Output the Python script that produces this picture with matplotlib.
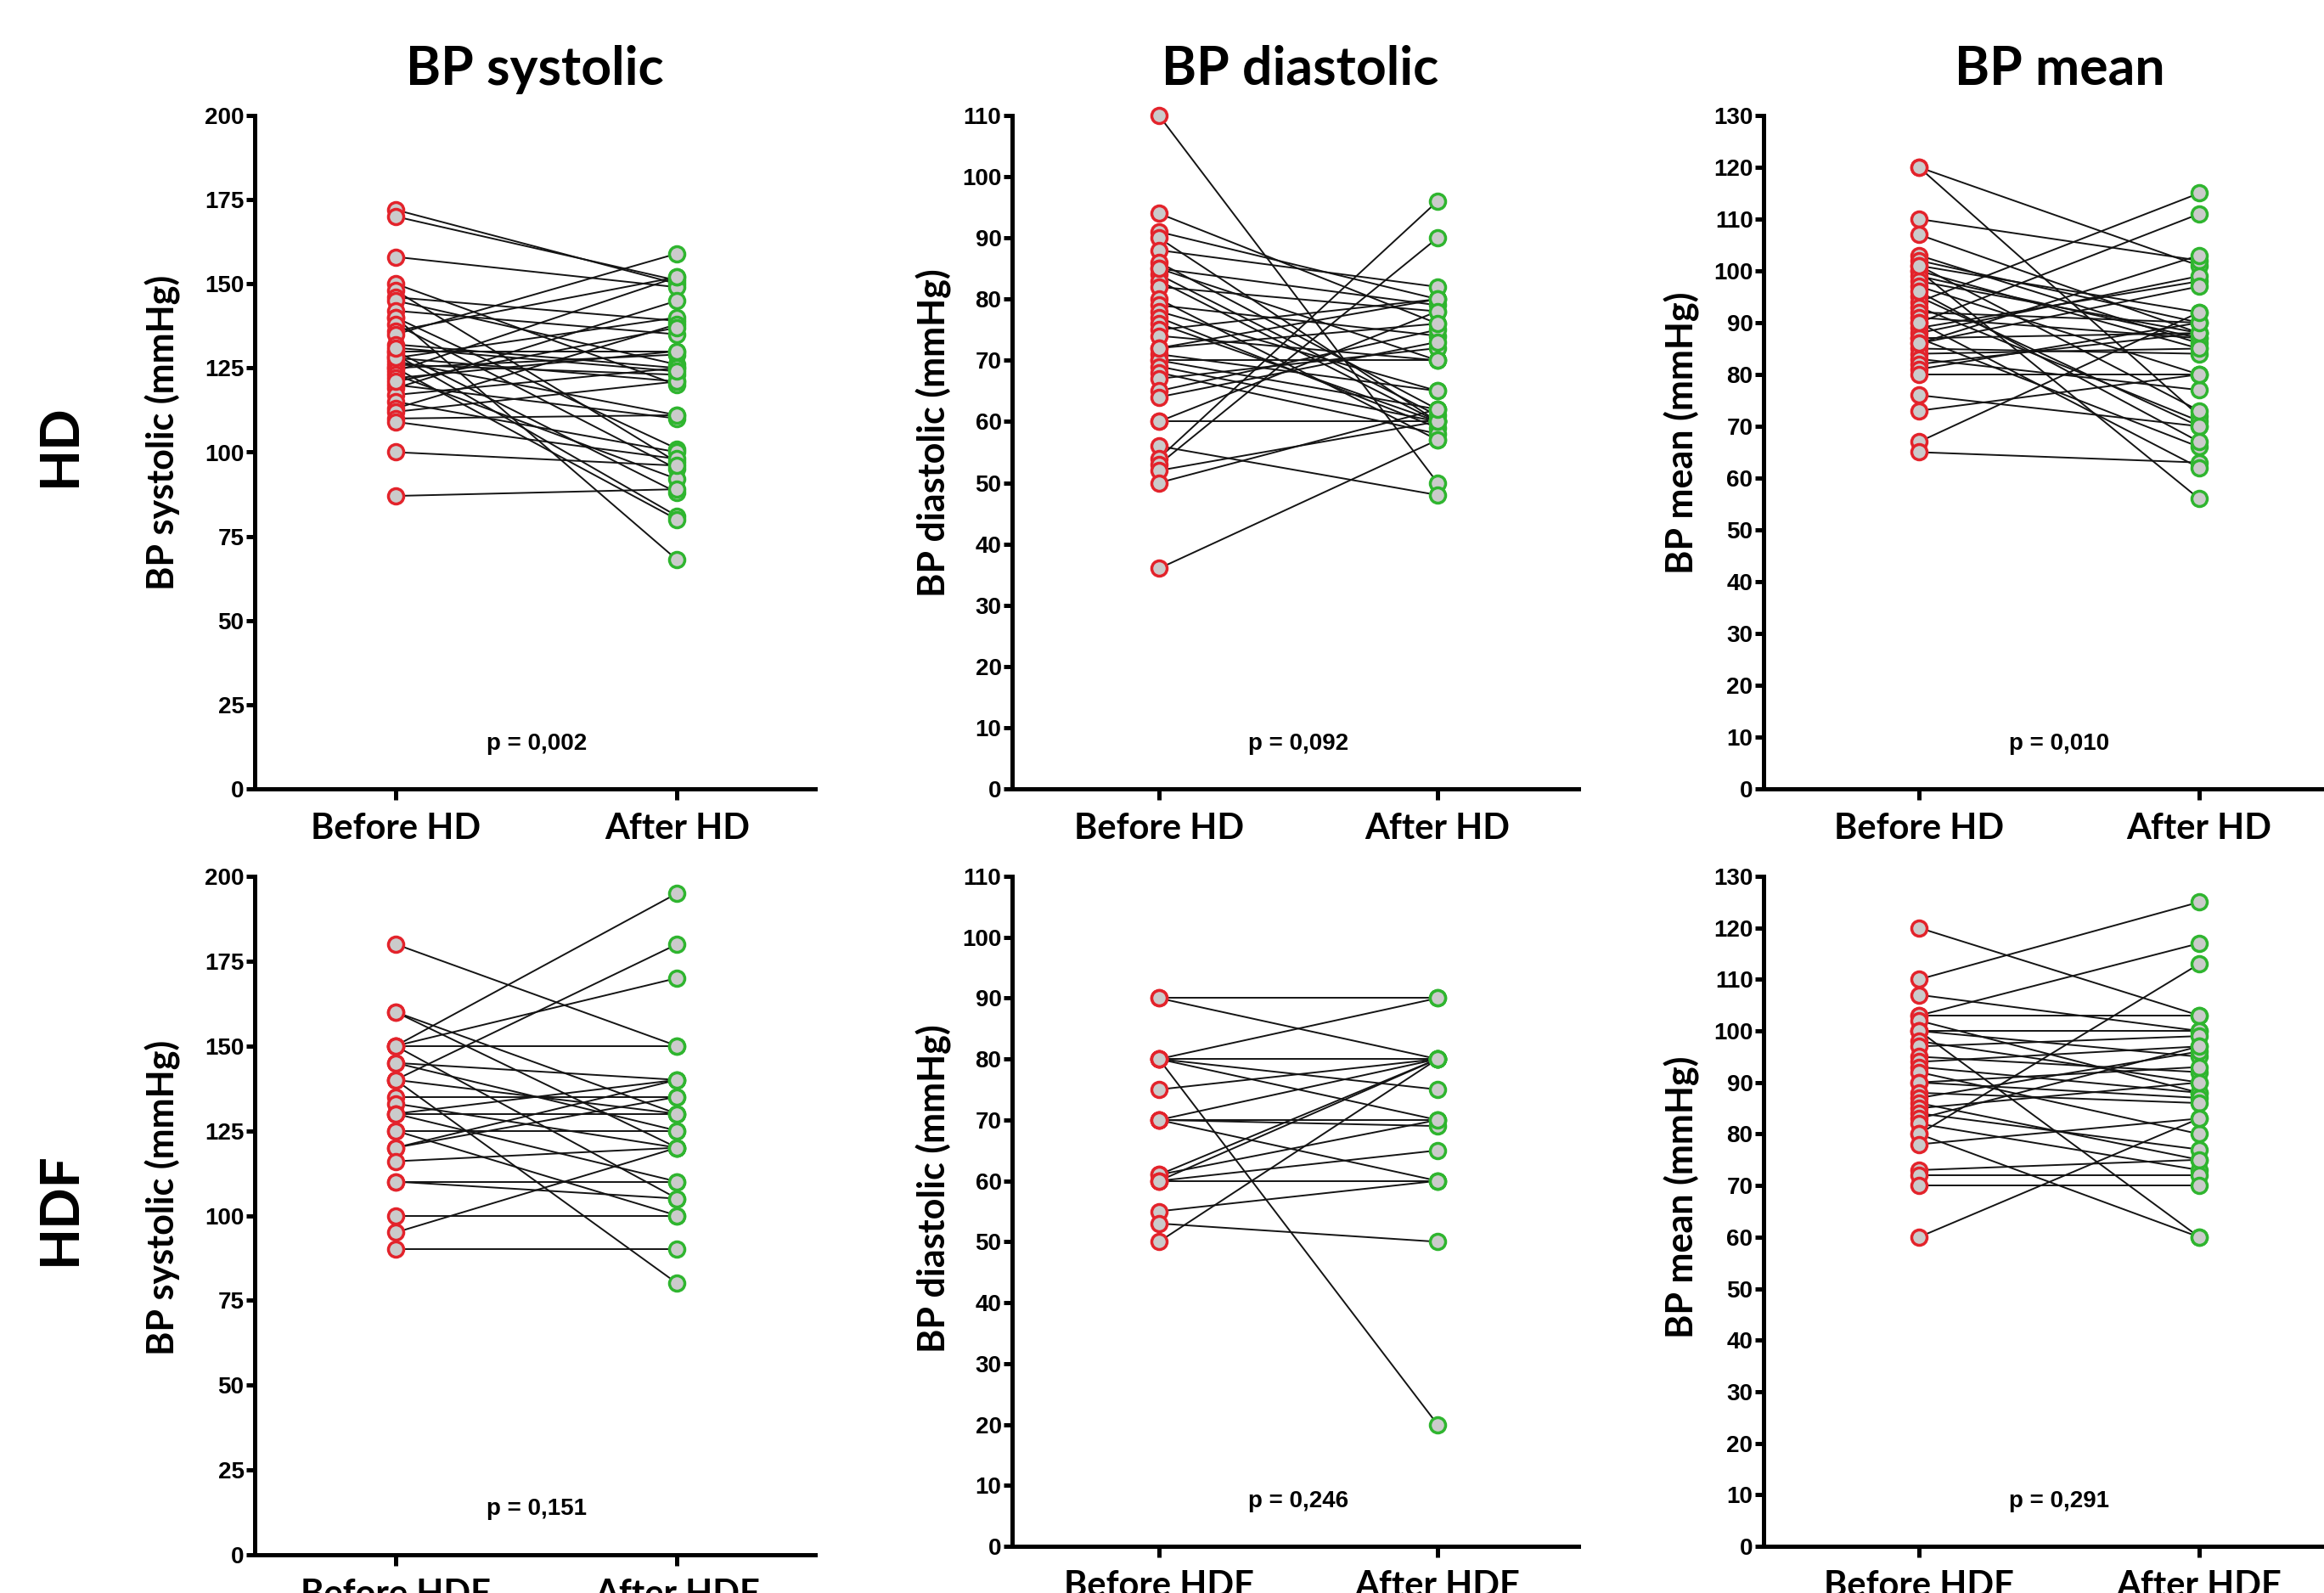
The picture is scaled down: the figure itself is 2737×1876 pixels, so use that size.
import matplotlib
matplotlib.use("Agg")
import matplotlib.pyplot as plt
from matplotlib import font_manager

# ---------------- data ----------------
col_titles = ["BP systolic", "BP diastolic", "BP mean"]
row_labels = ["HD", "HDF"]
y_labels = ["BP systolic (mmHg)", "BP diastolic (mmHg)", "BP mean (mmHg)"]
x_labels_hd = ["Before HD", "After HD"]
x_labels_hdf = ["Before HDF", "After HDF"]
y_max = [200, 110, 130]
y_step = [25, 10, 10]

# HD, systolic
hd_sys_before = [172, 170, 158, 150, 148, 146, 145, 142, 140, 140, 138, 136, 135, 132, 130, 130, 129, 128, 127,
                 126, 125, 125, 124, 123, 122, 120, 119, 117, 115, 113, 112, 110, 109, 100, 87, 128, 131, 121]
hd_sys_after = [150, 151, 149, 120, 97, 139, 126, 135, 68, 101, 95, 152, 159, 125, 130, 88, 81, 140, 111,
                123, 80, 129, 152, 92, 130, 110, 145, 125, 100, 138, 121, 111, 98, 96, 89, 121, 124, 137]
# HD, diastolic
hd_dia_before = [110, 94, 91, 90, 88, 86, 85, 84, 83, 82, 80, 79, 78, 77, 76, 75, 74, 72, 71, 70, 70, 69, 68, 67,
                 65, 64, 60, 60, 56, 54, 53, 52, 50, 36, 85, 72]
hd_dia_after = [50, 76, 80, 60, 82, 62, 79, 61, 60, 78, 57, 74, 65, 59, 60, 80, 70, 80, 65, 70, 62, 60, 58, 72,
                75, 73, 78, 60, 48, 96, 90, 60, 62, 57, 70, 76]
# HD, mean
hd_mean_before = [120, 120, 110, 107, 103, 102, 101, 100, 100, 99, 98, 97, 95, 94, 93, 92, 91, 90, 89, 88, 87, 87,
                  86, 85, 84, 83, 82, 81, 80, 76, 73, 67, 65, 96, 90, 86, 101]
hd_mean_after = [101, 72, 102, 88, 86, 90, 92, 56, 85, 87, 88, 80, 70, 115, 71, 90, 87, 111, 98, 99, 66, 88,
                 97, 84, 85, 77, 88, 90, 80, 70, 80, 92, 63, 67, 62, 103, 73]
# HDF, systolic
hdf_sys_before = [180, 160, 160, 150, 150, 150, 150, 145, 145, 140, 140, 140, 135, 133, 130, 130, 130, 125, 125,
                  120, 120, 116, 110, 110, 100, 95, 90]
hdf_sys_after = [150, 130, 120, 195, 170, 150, 105, 140, 125, 180, 80, 130, 135, 120, 140, 130, 110, 125, 100,
                 135, 140, 120, 110, 105, 100, 120, 90]
# HDF, diastolic
hdf_dia_before = [90, 90, 80, 80, 80, 80, 80, 75, 70, 70, 70, 70, 61, 61, 60, 60, 60, 55, 53, 50]
hdf_dia_after = [90, 80, 90, 80, 75, 70, 20, 80, 80, 70, 69, 60, 80, 70, 65, 80, 60, 60, 50, 80]
# HDF, mean
hdf_mean_before = [120, 110, 107, 103, 103, 102, 100, 100, 100, 98, 97, 95, 94, 93, 92, 90, 90, 88, 87, 86, 85,
                   84, 83, 82, 80, 80, 78, 73, 72, 70, 60]
hdf_mean_after = [103, 125, 100, 117, 103, 88, 60, 100, 95, 90, 99, 92, 97, 88, 80, 93, 87, 86, 96, 75, 90,
                  77, 97, 73, 113, 60, 83, 75, 72, 70, 83]

p_values = [["p = 0,002", "p = 0,092", "p = 0,010"],
            ["p = 0,151", "p = 0,246", "p = 0,291"]]

panels = [[(hd_sys_before, hd_sys_after), (hd_dia_before, hd_dia_after), (hd_mean_before, hd_mean_after)],
          [(hdf_sys_before, hdf_sys_after), (hdf_dia_before, hdf_dia_after), (hdf_mean_before, hdf_mean_after)]]

# ---------------- styling ----------------
installed = {f.name for f in font_manager.fontManager.ttflist}
narrow = ["Liberation Sans Narrow"] if "Liberation Sans Narrow" in installed else []
NARROW = narrow + ["Liberation Sans", "DejaVu Sans"]
MAIN = ["Lato", "Open Sans", "DejaVu Sans"]

W, H = 2737, 1876
fig = plt.figure(figsize=(W / 100, H / 100), dpi=100)

RED = "#e3232b"
GREEN = "#2fb52f"
FACE = "#cbcbcb"

# axes geometry in pixels: (left, width, xlim_left, xlim_right)
cols = [(300, 660, -0.5, 1.49), (1192, 667, -0.527, 1.506), (2077, 678, -0.555, 1.5)]
rows = [[(136, 929), (136, 929), (136, 929)],
        [(1032, 1831), (1032, 1821), (1032, 1821)]]

for r in range(2):
    for c in range(3):
        left, width, xl, xr = cols[c]
        top, bottom = rows[r][c]
        ax = fig.add_axes([left / W, 1 - bottom / H, width / W, (bottom - top) / H])
        before, after = panels[r][c]
        for b, a in zip(before, after):
            ax.plot([0, 1], [b, a], color="#141414", lw=1.4, zorder=2, clip_on=False)
        ax.plot([0] * len(before), before, "o", ms=13, mfc=FACE, mec=RED, mew=2.5, zorder=3, clip_on=False)
        ax.plot([1] * len(after), after, "o", ms=13, mfc=FACE, mec=GREEN, mew=2.5, zorder=3, clip_on=False)
        ax.set_xlim(xl, xr)
        ax.set_ylim(0, y_max[c])
        ax.set_yticks(range(0, y_max[c] + 1, y_step[c]))
        ax.set_xticks([0, 1])
        ax.set_xticklabels(x_labels_hd if r == 0 else x_labels_hdf, fontfamily=MAIN, fontweight="bold",
                           fontsize=30)
        for lab in ax.get_yticklabels():
            lab.set_fontfamily(NARROW)
            lab.set_fontweight("bold")
            lab.set_fontsize(20)
        for s in ["top", "right"]:
            ax.spines[s].set_visible(False)
        for s in ["left", "bottom"]:
            ax.spines[s].set_linewidth(3.6)
        ax.tick_params(axis="y", direction="out", length=7, width=3.6, pad=2)
        ax.tick_params(axis="x", direction="out", length=9, width=3.6, pad=11)
        ax.patch.set_alpha(0)
        ax.text(0.5, y_max[c] * 0.067, p_values[r][c], ha="center", va="center", fontfamily=NARROW,
                fontweight="bold", fontsize=20)

# column titles
title_x = [630, 1531, 2426]
for c in range(3):
    fig.text(title_x[c] / W, 1 - 82 / H, col_titles[c], ha="center", va="center", fontfamily=MAIN,
             fontweight="bold", fontsize=45)

# y labels
ylab_pos = [[(192, 509), (1100, 510), (1981, 510)],
            [(192, 1410), (1100, 1400), (1981, 1410)]]
for r in range(2):
    for c in range(3):
        x, y = ylab_pos[r][c]
        fig.text(x / W, 1 - y / H, y_labels[c], rotation=90, ha="center", va="center", fontfamily=MAIN,
                 fontweight="bold", fontsize=31)

# row labels
fig.text(70 / W, 1 - 524 / H, row_labels[0], rotation=90, ha="center", va="center", fontfamily=MAIN,
         fontweight="bold", fontsize=46)
fig.text(70 / W, 1 - 1423 / H, row_labels[1], rotation=90, ha="center", va="center", fontfamily=MAIN,
         fontweight="bold", fontsize=46)

fig.savefig("out.png", dpi=100, facecolor="white")
